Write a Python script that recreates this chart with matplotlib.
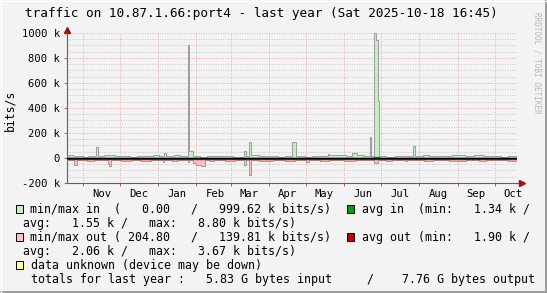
import matplotlib
matplotlib.use("Agg")
import matplotlib.pyplot as plt
import matplotlib.dates as mdates
import matplotlib.transforms as mtransforms
from matplotlib.patches import Rectangle
from matplotlib.lines import Line2D
from matplotlib.ticker import MultipleLocator, FuncFormatter
import pandas as pd

W, H = 547, 293
MONO = "DejaVu Sans Mono"

TITLE = "traffic on 10.87.1.66:port4 - last year (Sat 2025-10-18 16:45)"
START = pd.Timestamp("2024-10-18 16:45")
END = pd.Timestamp("2025-10-18 16:45")

# step change points, values in k bits/s
in_dates = ["2024-10-18", "2024-10-21", "2024-10-24", "2024-10-28", "2024-11-01", "2024-11-05",
            "2024-11-12", "2024-11-13", "2024-11-18", "2024-11-23", "2024-11-27", "2024-12-03",
            "2024-12-09", "2024-12-15", "2024-12-22", "2024-12-28", "2025-01-02", "2025-01-06",
            "2025-01-07", "2025-01-14", "2025-01-19", "2025-01-25", "2025-01-26", "2025-01-29",
            "2025-02-04", "2025-02-10", "2025-02-17", "2025-02-24", "2025-03-03", "2025-03-12",
            "2025-03-13", "2025-03-16", "2025-03-17", "2025-03-24", "2025-04-01", "2025-04-08",
            "2025-04-14", "2025-04-20", "2025-04-23", "2025-04-30", "2025-05-06", "2025-05-12",
            "2025-05-19", "2025-05-20", "2025-05-27", "2025-06-02", "2025-06-07", "2025-06-11",
            "2025-06-17", "2025-06-22", "2025-06-23", "2025-06-25", "2025-06-27", "2025-06-28",
            "2025-06-29", "2025-07-05", "2025-07-12", "2025-07-20", "2025-07-27", "2025-07-28",
            "2025-08-04", "2025-08-09", "2025-08-15", "2025-08-27", "2025-09-07", "2025-09-14",
            "2025-09-22", "2025-09-28", "2025-10-06", "2025-10-12"]
in_max = [14, 22, 12, 18, 10, 16,
          88, 14, 20, 26, 12, 18,
          10, 16, 12, 22, 14, 38,
          15, 22, 14, 904, 56, 16,
          10, 18, 12, 16, 10, 56,
          18, 130, 20, 12, 18, 10,
          16, 128, 14, 10, 18, 12,
          32, 22, 26, 18, 42, 20,
          16, 168, 18, 999.62, 944, 452,
          16, 10, 18, 12, 94, 16,
          24, 12, 18, 22, 14, 20,
          12, 18, 10, 16]

out_dates = ["2024-10-18", "2024-10-25", "2024-10-27", "2024-11-04", "2024-11-10", "2024-11-21",
             "2024-11-22", "2024-11-24", "2024-12-02", "2024-12-10", "2024-12-18", "2024-12-26",
             "2025-01-05", "2025-01-06", "2025-01-12", "2025-01-16", "2025-01-25", "2025-01-26",
             "2025-01-29", "2025-02-01", "2025-02-05", "2025-02-08", "2025-02-12", "2025-02-15",
             "2025-02-24", "2025-03-04", "2025-03-12", "2025-03-13", "2025-03-16", "2025-03-17",
             "2025-03-24", "2025-04-01", "2025-04-04", "2025-04-14", "2025-04-22", "2025-05-01",
             "2025-05-03", "2025-05-12", "2025-05-20", "2025-06-01", "2025-06-10", "2025-06-25",
             "2025-06-28", "2025-07-05", "2025-07-10", "2025-07-20", "2025-07-22", "2025-08-05",
             "2025-08-12", "2025-08-25", "2025-09-05", "2025-09-08", "2025-09-18", "2025-09-24",
             "2025-10-03", "2025-10-12"]
out_max = [18, 56, 16, 24, 14, 45,
           62, 18, 24, 14, 22, 16,
           30, 16, 28, 14, 32, 18,
           40, 55, 68, 20, 28, 16,
           22, 14, 56, 20, 139.81, 18,
           24, 28, 15, 22, 14, 30,
           16, 24, 16, 22, 16, 43,
           18, 26, 16, 28, 16, 24,
           14, 22, 28, 16, 24, 14,
           20, 26]

avg_in_dates = ["2024-10-18", "2025-01-25", "2025-01-26", "2025-06-25", "2025-06-29"]
avg_in = [1.5, 3.2, 1.5, 8.8, 1.5]
avg_out_dates = ["2024-10-18", "2025-03-16", "2025-03-17"]
avg_out = [2.0, 3.67, 2.0]


def steps(dates, vals):
    x = [pd.Timestamp(d) for d in dates] + [END]
    y = list(vals) + [vals[-1]]
    x[0] = START
    return x, y


def fx(x):
    return x / W


def fy(y):
    return 1 - y / H


BG = "#f3f3f3"
fig = plt.figure(figsize=(W / 100, H / 100), dpi=100, facecolor=BG)
ax = fig.add_axes([fx(66.5), fy(183), 450 / W, 150 / H], facecolor=BG)

xi, yi = steps(in_dates, in_max)
xo, yo = steps(out_dates, out_max)
yo = [-v for v in yo]

ax.fill_between(xi, 0, yi, step="post", color="#bff2bf", lw=0, zorder=2)
ax.fill_between(xo, 0, yo, step="post", color="#ffc0c0", lw=0, zorder=2)
ax.step(xi, yi, where="post", color="#a0a0a0", lw=0.75, zorder=3)
ax.step(xo, yo, where="post", color="#a0a0a0", lw=0.75, zorder=3)

xa, ya = steps(avg_in_dates, avg_in)
ax.step(xa, ya, where="post", color="#00a000", lw=1.0, zorder=4)
xr, yr = steps(avg_out_dates, avg_out)
shift = mtransforms.offset_copy(ax.transData, fig=fig, x=0, y=-1.0, units="dots")
ax.step(xr, [-v for v in yr], where="post", color="#c00000", lw=1.0, zorder=4, transform=shift)
ax.axhline(0, color="black", lw=1.0, zorder=5)

ax.set_xlim(START, END)
ax.set_ylim(-200, 1000)

# grid
ax.yaxis.set_major_locator(MultipleLocator(200))
ax.yaxis.set_minor_locator(MultipleLocator(50))
ax.xaxis.set_major_locator(mdates.MonthLocator())
ax.xaxis.set_minor_locator(mdates.MonthLocator(bymonthday=16))
ax.xaxis.set_major_formatter(FuncFormatter(lambda v, p: ""))
ax.xaxis.set_minor_formatter(mdates.DateFormatter("%b"))
ax.set_axisbelow(True)
ax.grid(which="major", color="#f0a8a8", linestyle=(0, (1, 1.5)), lw=0.7)
ax.grid(which="minor", axis="y", color="#c8c8c8", linestyle=(0, (1, 1.5)), lw=0.7)


def yfmt(v, p):
    return "0" if v == 0 else "%d k" % v


ax.yaxis.set_major_formatter(FuncFormatter(yfmt))
ax.tick_params(axis="y", which="major", length=2, width=0.6, color="#606060", pad=2.5,
               labelsize=7.6, labelfontfamily=MONO)
ax.tick_params(axis="y", which="minor", length=0)
ax.tick_params(axis="x", which="major", length=2, width=0.6, color="#606060")
ax.tick_params(axis="x", which="minor", length=0, pad=4, labelsize=7.6, labelfontfamily=MONO)

for s in ("top", "right"):
    ax.spines[s].set_visible(False)
for s in ("left", "bottom"):
    ax.spines[s].set_color("#606060")
    ax.spines[s].set_linewidth(0.8)

# axis arrows
ax.add_line(Line2D([1.0, 1.006], [0, 0], transform=ax.transAxes, color="#606060", lw=0.8, clip_on=False))
ax.plot([1.012], [0], marker=">", ms=4, color="#a01010", transform=ax.transAxes, clip_on=False)
ax.plot([0], [1.02], marker="^", ms=4, color="#a01010", transform=ax.transAxes, clip_on=False)

fig.text(fx(261), fy(13.5), TITLE, ha="center", va="center", fontsize=9.15, family=MONO)
fig.text(fx(10), fy(110), "bits/s", ha="center", va="center", rotation=90, fontsize=8.3, family=MONO)
fig.text(fx(537), fy(12), "RRDTOOL / TOBI OETIKER", ha="center", va="top", rotation=270,
         fontsize=5.5, family=MONO, color="#b8b8b8")

# legend
LFS = 8.33


def box(x, y, color):
    fig.add_artist(Rectangle((fx(x), fy(y + 4)), 7.6 / W, 8 / H, transform=fig.transFigure,
                             facecolor=color, edgecolor="black", lw=0.7))


def txt(x, y, s):
    fig.text(fx(x), fy(y), s, ha="left", va="center", fontsize=LFS, family=MONO)


box(15.7, 209.3, "#bff2bf")
txt(30, 209.3, "min/max in  (   0.00   /   999.62 k bits/s)")
box(346.7, 209.3, "#00a000")
txt(361.7, 209.3, "avg in  (min:   1.34 k /")
txt(23.3, 223.3, "avg:   1.55 k /   max:   8.80 k bits/s)")
box(15.7, 237.3, "#ffc0c0")
txt(30, 237.3, "min/max out ( 204.80   /   139.81 k bits/s)")
box(346.7, 237.3, "#c00000")
txt(361.7, 237.3, "avg out (min:   1.90 k /")
txt(23.3, 251.2, "avg:   2.06 k /   max:   3.67 k bits/s)")
box(15.7, 265.2, "#ffff99")
txt(30.7, 265.2, "data unknown (device may be down)")
txt(30.7, 279.2, "totals for last year :   5.83 G bytes input     /    7.76 G bytes output")

# frame
fig.add_artist(Line2D([0, 1], [fy(292), fy(292)], transform=fig.transFigure, color="#9c9c9c", lw=1.4))
fig.add_artist(Line2D([fx(546), fx(546)], [0, 1], transform=fig.transFigure, color="#9c9c9c", lw=1.4))
fig.add_artist(Line2D([0, 1], [fy(0.5), fy(0.5)], transform=fig.transFigure, color="#ffffff", lw=1.0))
fig.add_artist(Line2D([fx(0.5), fx(0.5)], [0, 1], transform=fig.transFigure, color="#ffffff", lw=1.0))

fig.savefig("out.png", dpi=100, facecolor=BG)
